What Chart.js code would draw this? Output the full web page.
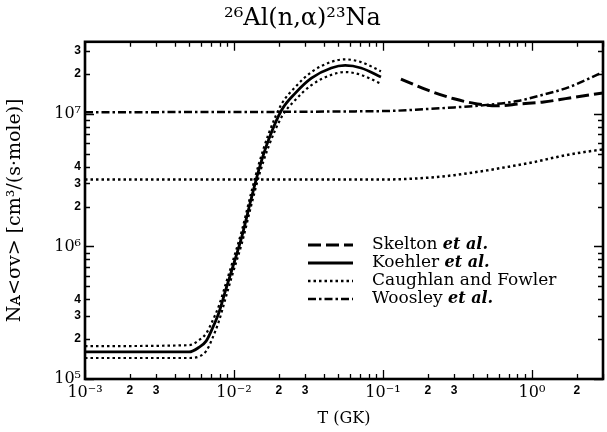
<!DOCTYPE html>
<html>
<head>
<meta charset="utf-8">
<title>26Al(n,alpha)23Na rate</title>
<script src="https://cdn.jsdelivr.net/npm/chart.js@4.4.1/dist/chart.umd.min.js"></script>
<style>
  html, body { margin: 0; padding: 0; background: #fff; }
  #rateChart { display: block; }
</style>
</head>
<body>
<canvas id="rateChart" width="607" height="432"></canvas>
<script>
// T in GK, rates N_A<sigma v> in cm3/(s mole)
const koehlerT = [0.001, 0.005, 0.00585, 0.0065, 0.00713, 0.00794, 0.0088, 0.0097, 0.0113, 0.013, 0.0147, 0.0171, 0.0209, 0.0259, 0.0331, 0.045, 0.0558, 0.0713, 0.097];
const koehlerRate = [1.6e5, 1.6e5, 1.74e5, 1.93e5, 2.38e5, 3.19e5, 4.7e5, 6.7e5, 1.19e6, 2.25e6, 3.8e6, 6.4e6, 1.07e7, 1.44e7, 1.86e7, 2.22e7, 2.32e7, 2.22e7, 1.9e7];
// dotted band around Koehler et al.
const koehlerUpper = [1.77e5, 1.8e5, 1.97e5, 2.2e5, 2.7e5, 3.6e5, 5.2e5, 7.4e5, 1.32e6, 2.5e6, 4.2e6, 7.1e6, 1.19e7, 1.6e7, 2.07e7, 2.47e7, 2.58e7, 2.46e7, 2.1e7];
const koehlerLower = [1.44e5, 1.44e5, 1.48e5, 1.62e5, 2.0e5, 2.75e5, 4.1e5, 6.0e5, 1.06e6, 2.0e6, 3.4e6, 5.7e6, 9.5e6, 1.28e7, 1.65e7, 1.97e7, 2.07e7, 1.97e7, 1.69e7];

const skeltonT = [0.132, 0.2, 0.3, 0.43, 0.585, 0.83, 1.2, 1.79, 3.0];
const skeltonRate = [1.83e7, 1.51e7, 1.3e7, 1.19e7, 1.15e7, 1.19e7, 1.23e7, 1.32e7, 1.44e7];

const caughlanT = [0.001, 0.1, 0.2, 0.3, 0.5, 0.7, 1.0, 1.5, 2.0, 3.0];
const caughlanRate = [3.2e6, 3.2e6, 3.3e6, 3.45e6, 3.75e6, 4.0e6, 4.3e6, 4.75e6, 5.05e6, 5.4e6];

const woosleyT = [0.001, 0.1, 0.2, 0.3, 0.5, 0.8, 1.2, 1.6, 2.0, 2.5, 3.0];
const woosleyRate = [1.03e7, 1.05e7, 1.09e7, 1.12e7, 1.17e7, 1.25e7, 1.4e7, 1.53e7, 1.68e7, 1.88e7, 2.07e7];

const seriesNames = ["Skelton et al.", "Koehler et al.", "Caughlan and Fowler", "Woosley et al."];

// axis ticks and their labels
const xDecades = [0.001, 0.01, 0.1, 1];
const yDecades = [1e5, 1e6, 1e7];
const mantissas = [1, 2, 3, 4, 5, 6, 7, 8, 9];
const xLabelValues = [0.001, 0.002, 0.003, 0.01, 0.02, 0.03, 0.1, 0.2, 0.3, 1, 2];
const xLabelTexts = ["10⁻³", "2", "3", "10⁻²", "2", "3", "10⁻¹", "2", "3", "10⁰", "2"];
const yLabelValues = [1e5, 2e5, 3e5, 4e5, 1e6, 2e6, 3e6, 4e6, 1e7, 2e7, 3e7];
const yLabelTexts = ["10⁵", "2", "3", "4", "10⁶", "2", "3", "4", "10⁷", "2", "3"];

const X_MIN = 0.001, X_MAX = 3;
const Y_MIN = 1e5, Y_MAX = 3.5e7;

const SERIF = "'DejaVu Serif', serif";
const majorFont = { family: SERIF, size: 16 };
const minorFont = { family: "'Liberation Sans', Arial, sans-serif", size: 12, weight: "bold" };

function tickList(decades, min, max) {
  const out = [];
  decades.forEach((d) => mantissas.forEach((m) => {
    const v = d * m;
    if (v >= min * 0.999 && v <= max * 1.001) out.push(v);
  }));
  return out;
}

function isDecade(v) {
  const l = Math.log10(v);
  return Math.abs(l - Math.round(l)) < 1e-6;
}

function labelFor(v, values, texts) {
  const i = values.findIndex((lv) => Math.abs(Math.log10(lv) - Math.log10(v)) < 1e-6);
  return i < 0 ? "" : texts[i];
}

function points(ts, rs) {
  return ts.map((t, i) => ({ x: t, y: rs[i] }));
}

// inward tick marks on all four sides plus the heavy frame
const frameTicks = {
  id: "frameTicks",
  afterDraw(chart) {
    const { ctx, chartArea: a, scales } = chart;
    ctx.save();
    ctx.strokeStyle = "#000";
    ctx.lineWidth = 1.3;
    ctx.beginPath();
    scales.x.ticks.forEach((t) => {
      const px = Math.round(scales.x.getPixelForValue(t.value)) + 0.5;
      const len = isDecade(t.value) ? 9 : 5;
      ctx.moveTo(px, a.bottom); ctx.lineTo(px, a.bottom - len);
      ctx.moveTo(px, a.top); ctx.lineTo(px, a.top + len);
    });
    scales.y.ticks.forEach((t) => {
      const py = Math.round(scales.y.getPixelForValue(t.value)) + 0.5;
      const len = isDecade(t.value) ? 9 : 5;
      ctx.moveTo(a.left, py); ctx.lineTo(a.left + len, py);
      ctx.moveTo(a.right, py); ctx.lineTo(a.right - len, py);
    });
    ctx.stroke();
    ctx.lineWidth = 2.6;
    ctx.strokeRect(a.left, a.top, a.right - a.left, a.bottom - a.top);
    ctx.restore();
  }
};

// legend drawn inside the plot, with "et al." in italics
const innerLegend = {
  id: "innerLegend",
  afterDraw(chart) {
    const { ctx } = chart;
    const items = chart.data.datasets.filter((d) => d.inLegend);
    const x0 = 308, x1 = 353, tx = 372, y0 = 245, step = 18;
    ctx.save();
    ctx.fillStyle = "#000";
    ctx.textBaseline = "middle";
    items.forEach((d, i) => {
      const y = y0 + i * step;
      ctx.strokeStyle = "#000";
      ctx.lineWidth = d.borderWidth;
      ctx.lineCap = d.borderCapStyle || "butt";
      ctx.setLineDash(d.borderDash || []);
      ctx.beginPath();
      ctx.moveTo(x0, y);
      ctx.lineTo(x1, y);
      ctx.stroke();
      ctx.setLineDash([]);

      const label = d.label;
      const k = label.indexOf("et al.");
      const head = k < 0 ? label : label.slice(0, k);
      ctx.font = "17px " + SERIF;
      ctx.fillText(head, tx, y);
      if (k >= 0) {
        const w = ctx.measureText(head).width;
        ctx.font = "italic bold 16px " + SERIF;
        ctx.fillText("et al.", tx + w, y);
      }
    });
    ctx.restore();
  }
};

const lineBase = {
  pointRadius: 0,
  fill: false,
  borderColor: "#000",
  cubicInterpolationMode: "monotone",
  borderCapStyle: "butt"
};

const dotted = [2.5, 3];

new Chart(document.getElementById("rateChart").getContext("2d"), {
  type: "line",
  data: {
    datasets: [
      { ...lineBase, label: "koehler upper", data: points(koehlerT, koehlerUpper), borderWidth: 2.2, borderDash: dotted },
      { ...lineBase, label: "koehler lower", data: points(koehlerT, koehlerLower), borderWidth: 2.2, borderDash: dotted },
      { ...lineBase, label: seriesNames[0], inLegend: true, data: points(skeltonT, skeltonRate), borderWidth: 3, borderDash: [13, 5] },
      { ...lineBase, label: seriesNames[1], inLegend: true, data: points(koehlerT, koehlerRate), borderWidth: 2.8 },
      { ...lineBase, label: seriesNames[2], inLegend: true, data: points(caughlanT, caughlanRate), borderWidth: 2.5, borderDash: dotted },
      { ...lineBase, label: seriesNames[3], inLegend: true, data: points(woosleyT, woosleyRate), borderWidth: 2.5, borderDash: [8, 3, 2.5, 3] }
    ]
  },
  options: {
    responsive: false,
    animation: false,
    devicePixelRatio: 1,
    layout: { padding: { left: 0, right: 2, top: 0, bottom: 0 } },
    plugins: {
      legend: { display: false },
      tooltip: { enabled: false },
      title: {
        display: true,
        text: "²⁶Al(n,α)²³Na",
        color: "#000",
        font: { family: SERIF, size: 24, weight: "normal" },
        padding: { top: 4, bottom: 9 }
      }
    },
    scales: {
      x: {
        type: "logarithmic",
        min: X_MIN,
        max: X_MAX,
        afterBuildTicks: (s) => { s.ticks = tickList(xDecades, X_MIN, X_MAX).map((v) => ({ value: v })); },
        afterFit: (s) => { s.height = 53; },
        grid: { display: false, drawTicks: false, tickLength: 0 },
        border: { display: false },
        ticks: {
          autoSkip: false,
          maxRotation: 0,
          padding: 4,
          color: "#000",
          font: (c) => (c.tick && isDecade(c.tick.value) ? majorFont : minorFont),
          callback: (v) => labelFor(v, xLabelValues, xLabelTexts)
        },
        title: {
          display: true,
          text: "T (GK)",
          color: "#000",
          font: { family: SERIF, size: 16 },
          padding: { top: 2, bottom: 4 }
        }
      },
      y: {
        type: "logarithmic",
        min: Y_MIN,
        max: Y_MAX,
        afterBuildTicks: (s) => { s.ticks = tickList(yDecades, Y_MIN, Y_MAX).map((v) => ({ value: v })); },
        afterFit: (s) => { s.width = 85; },
        grid: { display: false, drawTicks: false, tickLength: 0 },
        border: { display: false },
        ticks: {
          autoSkip: false,
          padding: 4,
          color: "#000",
          font: (c) => (c.tick && isDecade(c.tick.value) ? majorFont : minorFont),
          callback: (v) => labelFor(v, yLabelValues, yLabelTexts)
        },
        title: {
          display: true,
          text: "Nᴀ<σv> [cm³/(s·mole)]",
          color: "#000",
          font: { family: SERIF, size: 19 },
          padding: { top: 4, bottom: 0 }
        }
      }
    }
  },
  plugins: [frameTicks, innerLegend]
});
</script>
</body>
</html>
